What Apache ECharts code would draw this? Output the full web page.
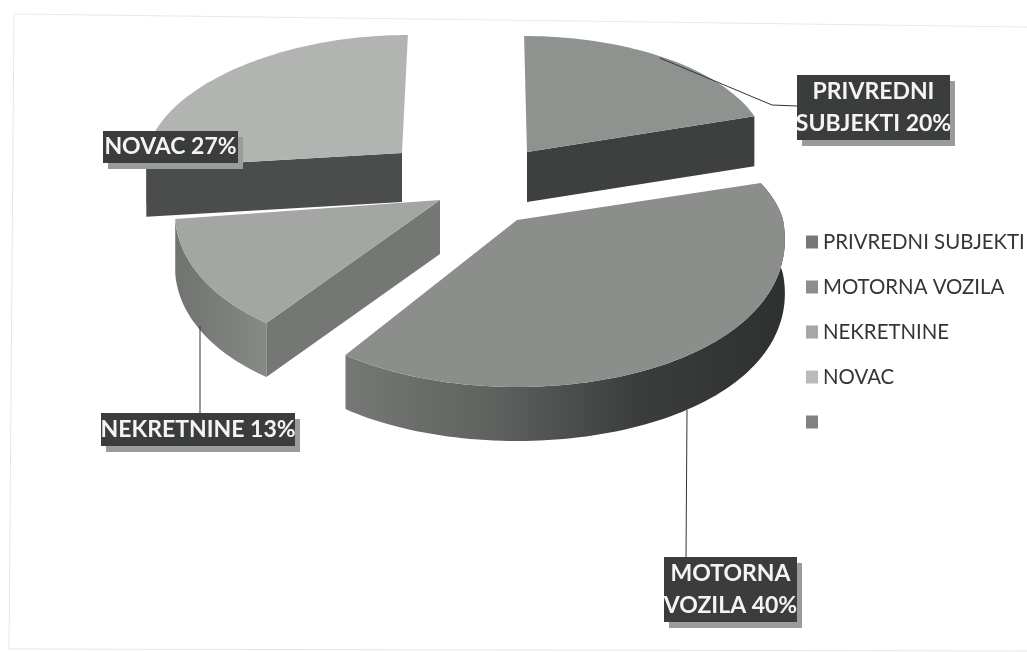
<!DOCTYPE html>
<html>
<head>
<meta charset="utf-8">
<style>html,body{margin:0;padding:0;background:#fff}#c{width:1027px;height:652px}</style>
<script src="https://cdn.jsdelivr.net/npm/echarts@6/dist/echarts.min.js"></script>
</head>
<body>
<div id="c"></div>
<script>
const categories = ['PRIVREDNI SUBJEKTI', 'MOTORNA VOZILA', 'NEKRETNINE', 'NOVAC'];
const values = [20, 40, 13, 27];
const legendNames = ['PRIVREDNI SUBJEKTI', 'MOTORNA VOZILA', 'NEKRETNINE', 'NOVAC', ' '];
const legendColors = ['#767a77', '#8b8e8b', '#a5a7a5', '#b9bbb9', '#7f8280'];

// Projection of each exploded slice: apex, radii and perspective.
const geometry = [
  {cx:527, cy:152, rx:240, back:116, front:116, lean:-0.025, p:0, depth:50, cutAt:'end'},
  {cx:517, cy:220, rx:266, back:120, front:167, lean:0, p:0.12, depth:54, cutAt:null},
  {cx:440, cy:200, rx:264, back:150, front:152, lean:0.15, p:0, depth:54, cutAt:'start'},
  {cx:402, cy:153, rx:255, back:118, front:118, lean:0.05, p:0.06, depth:49, cutAt:'start'}
];
const faces = [
  {top:'#8f9390', wall:['#3b3e3c','#3b3e3c'], cut:'#3d403e'},
  {top:'#8b8e8b', wall:['#757875','#5f625f','#3a3d3b','#2e312f'], cut:'#6f726f'},
  {top:'#a4a6a4', wall:['#707370','#868986'], cut:'#747774'},
  {top:'#b2b4b2', wall:['#4a4d4b','#4a4d4b'], cut:'#4a4d4b'}
];
const labelBoxes = [
  {x:797, y:75,  w:153, h:65, lines:2, leader:[[660,58],[772,105],[797,106]]},
  {x:664, y:557, w:133, h:65, lines:2, leader:[[687,410],[686,557]]},
  {x:101, y:413, w:194, h:33, lines:1, leader:[[200,326],[200,413]]},
  {x:103, y:131, w:135, h:32, lines:1, leader:null}
];

const total = values.reduce((a, b) => a + b, 0);
const starts = values.map((_, i) => values.slice(0, i).reduce((a, b) => a + b, 0) / total * 360);

function project(g, deg) {
  const a = deg * Math.PI / 180, c = Math.cos(a), s = Math.sin(a);
  const dy = c > 0 ? g.back * c : g.front * c;
  return [g.cx + g.rx * s * (1 - g.p * c) + g.lean * dy, g.cy - dy];
}
function arc(g, from, to) {
  const pts = [], n = Math.ceil(Math.abs(to - from) / 1.5);
  for (let k = 0; k <= n; k++) pts.push(project(g, from + (to - from) * k / n));
  return pts;
}
const down = (pts, d) => pts.map(p => [p[0], p[1] + d]);
const poly = (points, fill) => ({type:'polygon', shape:{points}, style:{fill}});

function sliceRenderer(i) {
  return function (params, api) {
    const g = geometry[i], f = faces[i];
    const a0 = starts[i], a1 = a0 + api.value(0) / total * 360;
    const apex = [g.cx, g.cy], outer = arc(g, a0, a1);
    const children = [];
    // the visible outer wall is the front half of the rim
    const w0 = Math.max(a0, 72), w1 = Math.min(a1, 270);
    if (w1 > w0) {
      const rim = arc(g, w0, w1);
      const n = f.wall.length - 1;
      children.push(poly(rim.concat(down(rim, g.depth).reverse()),
        new echarts.graphic.LinearGradient(0, 0, 1, 0, f.wall.map((color, k) => ({offset:k / n, color})))));
    }
    if (g.cutAt) {
      const e = g.cutAt === 'start' ? outer[0] : outer[outer.length - 1];
      children.push(poly([apex, e, [e[0], e[1] + g.depth], [apex[0], apex[1] + g.depth]], f.cut));
    }
    children.push(poly([apex].concat(outer), f.top));
    return {type:'group', children};
  };
}

function labelRenderer(params, api) {
  const i = params.dataIndex, b = labelBoxes[i], v = api.value(0);
  const children = [];
  if (b.leader) children.push({type:'polyline', shape:{points:b.leader}, style:{stroke:'#333', lineWidth:1, fill:null}});
  children.push({type:'rect', shape:{x:b.x + 5, y:b.y + 6, width:b.w, height:b.h}, style:{fill:'#9a9c9a'}});
  children.push({type:'rect', shape:{x:b.x, y:b.y, width:b.w, height:b.h}, style:{fill:'#3a3d3b'}});
  const name = categories[i];
  const parts = b.lines === 2 ? name.split(' ') : [name];
  parts[parts.length - 1] += ' ' + v + '%';
  parts.forEach((t, k) => children.push({
    type:'text',
    style:{text:t, x:b.x + b.w / 2, y:b.y + b.h * (k + 0.5) / parts.length, align:'center', verticalAlign:'middle',
      fill:'#f4f5f2', font:'bold 23px Lato, sans-serif'}
  }));
  return {type:'group', children};
}

const chart = echarts.init(document.getElementById('c'), null, {renderer:'canvas'});
const drawOrder = [3, 0, 2, 1];
chart.setOption({
  animation:false,
  backgroundColor:'#ffffff',
  legend:{
    orient:'vertical', left:801, top:227, itemWidth:12, itemHeight:13, itemGap:25, icon:'rect',
    data:legendNames, selectedMode:false,
    textStyle:{color:'#333633', fontSize:20.4, fontFamily:'Lato, sans-serif'}
  },
  graphic:[
    {type:'polyline', silent:true, shape:{points:[[14,14],[500,20],[1027,27]]}, style:{stroke:'#e9e9e9', lineWidth:1, fill:null}},
    {type:'polyline', silent:true, shape:{points:[[14,14],[9,649],[1027,651]]}, style:{stroke:'#e6e6e6', lineWidth:1, fill:null}}
  ],
  series: drawOrder.map(i => ({
    type:'custom', name:categories[i], coordinateSystem:'none', silent:true,
    itemStyle:{color:legendColors[i]}, data:[[values[i]]], renderItem:sliceRenderer(i)
  })).concat([
    {type:'custom', name:' ', coordinateSystem:'none', silent:true, itemStyle:{color:legendColors[4]}, data:[], renderItem:() => null},
    {type:'custom', name:'labels', coordinateSystem:'none', silent:true, z:5, data:values.map(v => [v]), renderItem:labelRenderer}
  ])
});
</script>
</body>
</html>
